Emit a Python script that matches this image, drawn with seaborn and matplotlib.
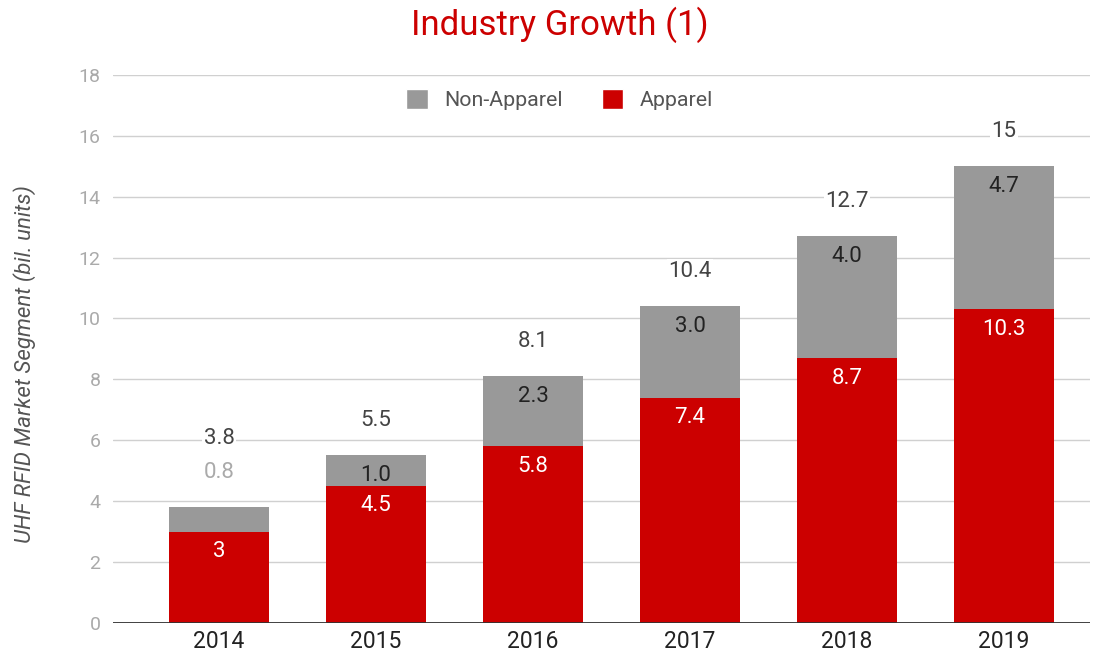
import numpy as np
import pandas as pd
import matplotlib.pyplot as plt
import seaborn as sns
from matplotlib.patches import Patch

# data
years = ['2014', '2015', '2016', '2017', '2018', '2019']
apparel = [3.0, 4.5, 5.8, 7.4, 8.7, 10.3]
non_apparel = [0.8, 1.0, 2.3, 3.0, 4.0, 4.7]
totals = [3.8, 5.5, 8.1, 10.4, 12.7, 15.0]
apparel_labels = ['3', '4.5', '5.8', '7.4', '8.7', '10.3']
non_apparel_labels = ['0.8', '1.0', '2.3', '3.0', '4.0', '4.7']
total_labels = ['3.8', '5.5', '8.1', '10.4', '12.7', '15']

RED = '#cc0000'
GRAY = '#999999'

sns.set_theme(style='white')
plt.rcParams['font.family'] = ['Roboto', 'DejaVu Sans']

df = pd.DataFrame({'year': years, 'apparel': apparel,
                   'non_apparel': non_apparel, 'total': totals})

fig = plt.figure(figsize=(11.02, 6.57), dpi=100)
ax = fig.add_axes([0.1025, 0.052, 0.887, 0.834])

# stacked bars: total (grey) underneath, apparel (red) on top
sns.barplot(data=df, x='year', y='total', color=GRAY, saturation=1,
            width=0.64, linewidth=0, edgecolor='none', ax=ax, zorder=2)
sns.barplot(data=df, x='year', y='apparel', color=RED, saturation=1,
            width=0.64, linewidth=0, edgecolor='none', ax=ax, zorder=3)

ax.set_ylim(0, 18)
ax.set_xlim(-0.675, 5.55)
ax.set_yticks(np.arange(0, 19, 2))
ax.yaxis.grid(True, color='#d0d0d0', linewidth=1, zorder=0)
ax.set_axisbelow(True)
ax.axhline(0, color='#333333', linewidth=1.3, zorder=4)
for s in ax.spines.values():
    s.set_visible(False)

ax.tick_params(axis='y', colors='#aaaaaa', labelsize=14, length=0, pad=9)
ax.tick_params(axis='x', colors='#222222', labelsize=16.5, length=0, pad=5)
ax.set_xlabel('')
ax.set_ylabel('UHF RFID Market Segment (bil. units)', fontsize=16,
              style='italic', color='#555555')
ax.yaxis.set_label_coords(-0.079, 0.473)

# value labels
seg_off = 0.66
top_off = 1.15
for i in range(len(years)):
    ax.text(i, apparel[i] - seg_off, apparel_labels[i], ha='center', va='center',
            fontsize=16, color='white', zorder=5)
    if non_apparel[i] < 1.0:
        # too small to hold the label, put it above the bar
        ax.text(i, totals[i] + top_off, non_apparel_labels[i], ha='center',
                va='center', fontsize=16, color='#aaaaaa', zorder=5)
        tot_y = totals[i] + 2 * top_off - 0.05
    else:
        ax.text(i, totals[i] - seg_off, non_apparel_labels[i], ha='center',
                va='center', fontsize=16, color='#222222', zorder=5)
        tot_y = totals[i] + top_off
    ax.text(i, tot_y, total_labels[i], ha='center', va='center', fontsize=16,
            color='#444444', zorder=5,
            bbox=dict(facecolor='white', edgecolor='none', pad=1))

fig.suptitle('Industry Growth (1)', x=0.508, y=0.99, fontsize=25, color=RED)

handles = [Patch(facecolor=GRAY, label='Non-Apparel'),
           Patch(facecolor=RED, label='Apparel')]
fig.legend(handles=handles, loc='center', bbox_to_anchor=(0.508, 0.848), ncol=2,
           frameon=False, fontsize=15.4, labelcolor='#555555', handlelength=1.0,
           handleheight=1.0, columnspacing=1.8, handletextpad=0.8)

fig.savefig('out.png', dpi=100)
